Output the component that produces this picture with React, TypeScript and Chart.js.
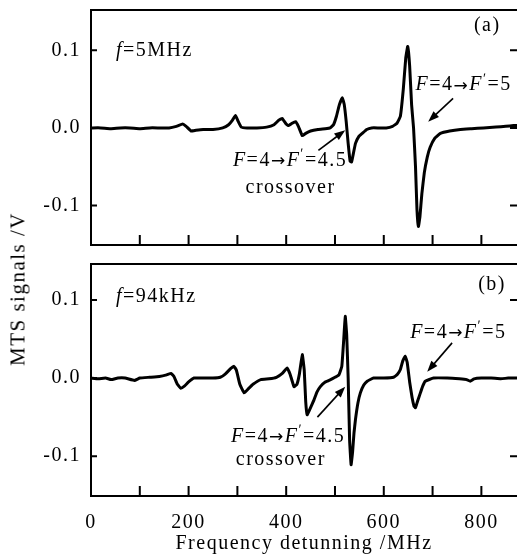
import React, { useEffect, useRef } from 'react';
import { Chart, registerables } from 'chart.js';
Chart.register(...registerables);

// ---------- data ----------
const freqA = [0, 20, 40, 60, 80, 100, 120, 140, 160, 175, 188, 195, 205, 215, 230, 250, 270, 282, 290, 296, 302, 308, 320, 340, 360, 375, 385, 392, 400, 405, 412, 419, 425, 433, 440, 450, 465, 480, 490, 497, 503, 509, 515, 519, 523, 527, 531, 534, 538, 542, 549, 556, 565, 575, 590, 605, 618, 627, 634, 640, 645, 649, 653, 657, 661, 665, 668, 671, 674, 678, 683, 689, 695, 705, 716, 735, 757, 780, 804, 830, 850, 866, 873];
const signalA = [0.000, 0.000, -0.001, 0.000, 0.000, -0.001, 0.000, 0.000, 0.000, 0.002, 0.005, 0.002, -0.004, -0.003, -0.002, -0.002, 0.000, 0.004, 0.010, 0.016, 0.008, 0.001, 0.000, 0.000, 0.001, 0.004, 0.010, 0.012, 0.005, 0.003, 0.006, 0.008, 0.002, -0.010, -0.007, -0.004, -0.002, -0.001, 0.000, 0.004, 0.015, 0.030, 0.039, 0.030, 0.008, -0.020, -0.043, -0.044, -0.032, -0.020, -0.011, -0.007, -0.002, 0.000, 0.000, 0.000, 0.002, 0.006, 0.015, 0.050, 0.090, 0.105, 0.080, 0.030, 0.000, -0.050, -0.105, -0.127, -0.115, -0.085, -0.058, -0.038, -0.025, -0.013, -0.007, -0.004, -0.002, -0.001, 0.000, 0.001, 0.002, 0.003, 0.003];

const freqB = [0, 15, 30, 41, 55, 70, 89, 100, 120, 140, 155, 164, 170, 177, 184, 192, 200, 211, 230, 250, 265, 275, 286, 293, 298, 305, 314, 322, 332, 348, 365, 380, 392, 402, 408, 416, 422, 427, 433, 437, 440, 443, 447, 452, 457, 463, 470, 480, 491, 500, 508, 514, 518, 521, 524, 527, 530, 533, 536, 539, 542, 547, 552, 559, 566, 579, 600, 620, 628, 634, 639, 644, 648, 653, 658, 662, 665, 669, 675, 680, 685, 702, 730, 755, 770, 777, 785, 800, 820, 840, 855, 873];
const signalB = [0.000, -0.001, 0.000, -0.002, 0.000, 0.000, -0.003, 0.000, 0.001, 0.002, 0.004, 0.006, 0.002, -0.008, -0.013, -0.010, -0.005, 0.000, 0.000, 0.000, 0.001, 0.005, 0.012, 0.015, 0.010, -0.008, -0.019, -0.014, -0.008, -0.002, -0.001, 0.001, 0.006, 0.013, 0.005, -0.011, -0.008, 0.005, 0.030, 0.010, -0.030, -0.047, -0.042, -0.035, -0.028, -0.018, -0.011, -0.005, -0.002, 0.001, 0.004, 0.015, 0.050, 0.079, 0.055, 0.000, -0.080, -0.111, -0.095, -0.070, -0.053, -0.032, -0.019, -0.009, -0.004, 0.000, 0.000, 0.001, 0.005, 0.011, 0.022, 0.028, 0.020, -0.005, -0.025, -0.036, -0.038, -0.030, -0.019, -0.010, -0.004, 0.000, 0.000, -0.001, -0.002, -0.004, -0.001, 0.000, 0.000, -0.001, 0.000, 0.000];

const yTickValues = [-0.1, 0, 0.1];
const xLabelValues = [0, 200, 400, 600, 800];
const xMarkValues = [100, 200, 300, 400, 500, 600, 700, 800];
const X_MIN = 0;
const X_MAX = 873;

const SERIF = '"Liberation Serif", "DejaVu Serif", serif';
const FONT_SIZE = 20;
const SPACING = '1.5px';

type Run = { t: string; i?: boolean; sup?: boolean; sym?: boolean };
type Ann =
  | { kind: 'text'; x: number; y: number; align: 'left' | 'right' | 'center'; runs: Run[] }
  | { kind: 'arrow'; x1: number; y1: number; x2: number; y2: number };

const transition5: Run[] = [{ t: 'F', i: true }, { t: '=4' }, { t: '→', sym: true }, { t: 'F', i: true }, { t: '\u02B9', sup: true }, { t: '=5' }];
const transition45: Run[] = [{ t: 'F', i: true }, { t: '=4' }, { t: '→', sym: true }, { t: 'F', i: true }, { t: '\u02B9', sup: true }, { t: '=4.5' }];

const annA: Ann[] = [
  { kind: 'text', x: 51, y: 0.1, align: 'left', runs: [{ t: 'f', i: true }, { t: '=5MHz' }] },
  { kind: 'text', x: 812, y: 0.132, align: 'center', runs: [{ t: '(a)' }] },
  { kind: 'text', x: 665, y: 0.055, align: 'left', runs: transition5 },
  { kind: 'arrow', x1: 742, y1: 0.038, x2: 691, y2: 0.008 },
  { kind: 'text', x: 525, y: -0.042, align: 'right', runs: transition45 },
  { kind: 'text', x: 409, y: -0.077, align: 'center', runs: [{ t: 'crossover' }] },
  { kind: 'arrow', x1: 466, y1: -0.029, x2: 521, y2: -0.003 },
];
const annB: Ann[] = [
  { kind: 'text', x: 51, y: 0.104, align: 'left', runs: [{ t: 'f', i: true }, { t: '=94kHz' }] },
  { kind: 'text', x: 822, y: 0.12, align: 'center', runs: [{ t: '(b)' }] },
  { kind: 'text', x: 654, y: 0.058, align: 'left', runs: transition5 },
  { kind: 'arrow', x1: 740, y1: 0.045, x2: 689, y2: 0.008 },
  { kind: 'text', x: 521, y: -0.075, align: 'right', runs: transition45 },
  { kind: 'text', x: 389, y: -0.105, align: 'center', runs: [{ t: 'crossover' }] },
  { kind: 'arrow', x1: 464, y1: -0.05, x2: 521, y2: -0.011 },
];

function runFont(r: Run) {
  if (r.sym) return `17px "DejaVu Sans", sans-serif`;
  const size = r.sup ? 14 : FONT_SIZE;
  return `${r.i ? 'italic ' : ''}${size}px ${SERIF}`;
}

const framePlugin = {
  id: 'frameAndNotes',
  beforeDraw(chart: any) {
    (chart.ctx as any).letterSpacing = SPACING;
  },
  afterDatasetsDraw(chart: any) {
    const ctx: CanvasRenderingContext2D = chart.ctx;
    const { left, right, top, bottom } = chart.chartArea;
    const xs = chart.scales.x;
    const ys = chart.scales.y;
    const anns: Ann[] = chart.options.plugins.frameAndNotes.annotations;
    ctx.save();
    ctx.strokeStyle = '#000';
    ctx.fillStyle = '#000';
    ctx.lineWidth = 2;
    ctx.beginPath();
    ctx.moveTo(right + 2, top);
    ctx.lineTo(left, top);
    ctx.lineTo(left, bottom);
    ctx.lineTo(right + 2, bottom);
    ctx.stroke();
    // inward ticks
    ctx.beginPath();
    xMarkValues.forEach((v) => {
      const px = xs.getPixelForValue(v);
      ctx.moveTo(px, bottom);
      ctx.lineTo(px, bottom - 10);
    });
    yTickValues.forEach((v) => {
      const py = ys.getPixelForValue(v);
      ctx.moveTo(left, py);
      ctx.lineTo(left + 6, py);
      ctx.moveTo(right, py);
      ctx.lineTo(right - 7, py);
    });
    ctx.stroke();
    // annotations
    anns.forEach((a) => {
      if (a.kind === 'text') {
        let total = 0;
        const widths = a.runs.map((r) => {
          ctx.font = runFont(r);
          const w = ctx.measureText(r.t).width;
          total += w;
          return w;
        });
        let x = xs.getPixelForValue(a.x);
        const y = ys.getPixelForValue(a.y);
        if (a.align === 'right') x -= total;
        else if (a.align === 'center') x -= total / 2;
        ctx.textBaseline = 'middle';
        ctx.textAlign = 'left';
        a.runs.forEach((r, k) => {
          ctx.font = runFont(r);
          ctx.fillText(r.t, x, r.sup ? y - 6 : r.sym ? y + 1 : y);
          x += widths[k];
        });
      } else {
        const x1 = xs.getPixelForValue(a.x1);
        const y1 = ys.getPixelForValue(a.y1);
        const x2 = xs.getPixelForValue(a.x2);
        const y2 = ys.getPixelForValue(a.y2);
        const ang = Math.atan2(y2 - y1, x2 - x1);
        const hl = 11;
        const hw = 4;
        ctx.lineWidth = 1.6;
        ctx.beginPath();
        ctx.moveTo(x1, y1);
        ctx.lineTo(x2 - Math.cos(ang) * hl * 0.8, y2 - Math.sin(ang) * hl * 0.8);
        ctx.stroke();
        ctx.beginPath();
        ctx.moveTo(x2, y2);
        ctx.lineTo(x2 - Math.cos(ang) * hl - Math.sin(ang) * hw, y2 - Math.sin(ang) * hl + Math.cos(ang) * hw);
        ctx.lineTo(x2 - Math.cos(ang) * hl + Math.sin(ang) * hw, y2 - Math.sin(ang) * hl - Math.cos(ang) * hw);
        ctx.closePath();
        ctx.fill();
      }
    });
    ctx.restore();
  },
  afterDraw(chart: any) {
    (chart.ctx as any).letterSpacing = '0px';
  },
};

function makeConfig(
  freq: number[],
  signal: number[],
  yMin: number,
  yMax: number,
  padTop: number,
  xAxisHeight: number,
  showXLabels: boolean,
  annotations: Ann[]
): any {
  return {
    type: 'line',
    data: {
      datasets: [
        {
          data: freq.map((f, i) => ({ x: f, y: signal[i] })),
          borderColor: '#000',
          borderWidth: 3,
          pointRadius: 0,
          tension: 0.1,
          fill: false,
        },
      ],
    },
    options: {
      animation: false,
      responsive: false,
      events: [],
      layout: { padding: { top: padTop, left: 0, right: 0, bottom: 0 } },
      plugins: {
        legend: { display: false },
        tooltip: { enabled: false },
        frameAndNotes: { annotations },
      },
      scales: {
        x: {
          type: 'linear',
          min: X_MIN,
          max: X_MAX,
          afterBuildTicks: (s: any) => {
            s.ticks = xLabelValues.map((v) => ({ value: v }));
          },
          afterFit: (s: any) => {
            s.height = xAxisHeight;
            s.paddingLeft = 0;
            s.paddingRight = 0;
          },
          grid: { display: false, drawTicks: false },
          border: { display: false },
          ticks: {
            display: showXLabels,
            color: '#000',
            font: { family: SERIF, size: FONT_SIZE },
            padding: 15,
            maxRotation: 0,
            autoSkip: false,
            callback: (v: any) => String(v),
          },
          title: {
            display: showXLabels,
            text: 'Frequency detunning /MHz',
            color: '#000',
            font: { family: SERIF, size: FONT_SIZE },
            padding: 0,
          },
        },
        y: {
          type: 'linear',
          min: yMin,
          max: yMax,
          afterBuildTicks: (s: any) => {
            s.ticks = yTickValues.map((v) => ({ value: v }));
          },
          afterFit: (s: any) => {
            s.width = 91;
            s.paddingTop = 0;
            s.paddingBottom = 0;
          },
          grid: { display: false, drawTicks: false },
          border: { display: false },
          ticks: {
            color: '#000',
            font: { family: SERIF, size: FONT_SIZE },
            padding: 10,
            callback: (v: any) => Number(v).toFixed(1),
          },
        },
      },
    },
    plugins: [framePlugin],
  };
}

export default function App() {
  const refA = useRef<HTMLCanvasElement>(null);
  const refB = useRef<HTMLCanvasElement>(null);
  useEffect(() => {
    const a = new Chart(refA.current!, makeConfig(freqA, signalA, -0.151, 0.152, 10, 5, false, annA));
    const b = new Chart(refB.current!, makeConfig(freqB, signalB, -0.151, 0.146, 9, 60, true, annB));
    return () => {
      a.destroy();
      b.destroy();
    };
  }, []);
  return (
    <div style={{ position: 'absolute', left: 0, top: 0, width: 517, height: 556, background: '#fff', overflow: 'hidden' }}>
      <canvas ref={refA} width={517} height={250} style={{ position: 'absolute', left: 0, top: 0 }} />
      <canvas ref={refB} width={517} height={301} style={{ position: 'absolute', left: 0, top: 255 }} />
      <div
        style={{
          position: 'absolute',
          left: 18,
          top: 289,
          transform: 'translate(-50%, -50%) rotate(-90deg)',
          whiteSpace: 'nowrap',
          fontFamily: SERIF,
          fontSize: 21,
          letterSpacing: '1.5px',
          color: '#000',
        }}
      >
        MTS signals /V
      </div>
    </div>
  );
}
